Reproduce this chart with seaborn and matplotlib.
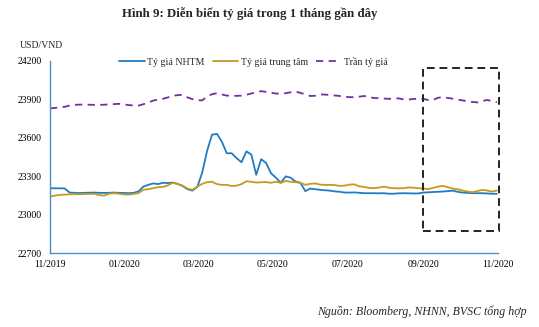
import numpy as np
import pandas as pd
import matplotlib
matplotlib.use("Agg")
import matplotlib.pyplot as plt
import matplotlib.dates as mdates
from matplotlib.patches import Rectangle
import seaborn as sns

sns.set_theme(style="white")
plt.rcParams['font.family'] = ['Liberation Serif', 'DejaVu Serif']

title = "Hình 9: Diễn biến tỷ giá trong 1 tháng gần đây"
unit_label = "USD/VND"
source = "Nguồn: Bloomberg, NHNN, BVSC tổng hợp"
series_names = ["Tỷ giá NHTM", "Tỷ giá trung tâm", "Trần tỷ giá"]

dates = pd.date_range("2019-11-01", "2020-10-31", periods=92)

nhtm = [23208, 23207, 23207, 23206, 23174, 23172, 23170, 23172, 23173, 23174,
        23172, 23171, 23172, 23174, 23172, 23171, 23169, 23172, 23182, 23220,
        23234, 23245, 23240, 23250, 23248, 23252, 23242, 23225, 23200, 23189,
        23218, 23330, 23500, 23625, 23631, 23570, 23480, 23480, 23442, 23410,
        23495, 23470, 23312, 23434, 23405, 23325, 23290, 23250, 23300, 23290,
        23260, 23250, 23185, 23205, 23200, 23195, 23192, 23189, 23183, 23180,
        23174, 23174, 23175, 23172, 23169, 23169, 23169, 23168, 23169, 23165,
        23165, 23168, 23169, 23168, 23167, 23167, 23174, 23176, 23178, 23180,
        23182, 23185, 23189, 23180, 23174, 23172, 23169, 23169, 23169, 23167,
        23165, 23164]

trung_tam = [23143, 23150, 23156, 23158, 23160, 23161, 23161, 23162, 23163, 23164,
             23155, 23150, 23165, 23169, 23165, 23160, 23158, 23163, 23169, 23195,
             23200, 23208, 23216, 23218, 23230, 23250, 23240, 23228, 23205, 23196,
             23220, 23242, 23255, 23258, 23240, 23234, 23234, 23225, 23228, 23240,
             23262, 23258, 23252, 23254, 23256, 23250, 23258, 23250, 23265, 23258,
             23255, 23250, 23234, 23242, 23245, 23236, 23234, 23234, 23232, 23226,
             23228, 23236, 23238, 23222, 23218, 23210, 23208, 23213, 23220, 23212,
             23208, 23207, 23208, 23214, 23212, 23208, 23206, 23201, 23210, 23220,
             23226, 23216, 23205, 23200, 23190, 23182, 23177, 23185, 23195, 23190,
             23182, 23189]

tran = [23830, 23833, 23837, 23842, 23852, 23857, 23859, 23859, 23858, 23857,
        23857, 23858, 23861, 23863, 23865, 23862, 23855, 23853, 23851, 23862,
        23875, 23890, 23898, 23904, 23915, 23927, 23933, 23935, 23915, 23902,
        23893, 23892, 23922, 23940, 23948, 23938, 23929, 23928, 23927, 23929,
        23935, 23946, 23955, 23964, 23958, 23952, 23945, 23945, 23948, 23955,
        23961, 23950, 23940, 23926, 23928, 23939, 23937, 23934, 23930, 23926,
        23920, 23917, 23917, 23921, 23926, 23918, 23910, 23909, 23906, 23904,
        23906, 23908, 23899, 23898, 23903, 23904, 23904, 23895, 23895, 23912,
        23918, 23911, 23905, 23898, 23892, 23885, 23880, 23876, 23886, 23895,
        23887, 23878]

y_ticks = [22700, 23000, 23300, 23600, 23900, 24200]
x_ticks = ["2019-11-01", "2020-01-01", "2020-03-01", "2020-05-01",
           "2020-07-01", "2020-09-01", "2020-11-01"]
x_labels = ["11/2019", "01/2020", "03/2020", "05/2020", "07/2020", "09/2020", "11/2020"]
box_x = ["2020-09-01", "2020-11-02"]
box_y = [22875, 24145]

df = pd.DataFrame({"date": dates, "nhtm": nhtm, "tt": trung_tam, "tran": tran})

fig = plt.figure(figsize=(5.39, 3.27), dpi=100)
ax = fig.add_axes([0.0928, 0.225, 0.8312, 0.589])

c_blue = "#1F7CC4"
c_gold = "#C49A22"
c_purple = "#7030A0"

sns.lineplot(data=df, x="date", y="nhtm", ax=ax, color=c_blue, lw=1.3, label=series_names[0])
sns.lineplot(data=df, x="date", y="tt", ax=ax, color=c_gold, lw=1.3, label=series_names[1])
sns.lineplot(data=df, x="date", y="tran", ax=ax, color=c_purple, lw=1.3,
             label=series_names[2], dashes=False)
ax.lines[2].set_dashes([4, 3])

ax.set_xlim(pd.Timestamp("2019-11-01"), pd.Timestamp("2020-11-01"))
ax.set_ylim(22700, 24200)
ax.set_yticks(y_ticks)
ax.set_yticklabels([str(v) for v in y_ticks], fontsize=7)
ax.set_xticks([pd.Timestamp(d) for d in x_ticks])
ax.set_xticklabels(x_labels, fontsize=7)
ax.tick_params(axis="both", length=0, pad=6, colors="#000000")
ax.tick_params(axis="x", pad=5)
ax.set_xlabel("")
ax.set_ylabel("")

for s in ["top", "right"]:
    ax.spines[s].set_visible(False)
for s in ["left", "bottom"]:
    ax.spines[s].set_color("#4A90C8")
    ax.spines[s].set_linewidth(1.0)

x0 = mdates.date2num(pd.Timestamp(box_x[0]))
x1 = mdates.date2num(pd.Timestamp(box_x[1]))
rect = Rectangle((x0, box_y[0]), x1 - x0, box_y[1] - box_y[0], fill=False,
                 edgecolor="#222222", lw=1.4, ls=(0, (4, 2.5)), clip_on=False, zorder=5)
ax.add_patch(rect)

leg = ax.legend(loc="center", bbox_to_anchor=(0.454, 0.995), ncol=3, frameon=False,
                fontsize=7.1, handlelength=2.6, handletextpad=0.25, columnspacing=0.8)

fig.text(0.464, 0.958, title, ha="center", va="center", fontsize=9.3, fontweight="bold")
fig.text(0.037, 0.862, unit_label, ha="left", va="center", fontsize=7)
fig.text(0.978, 0.048, source, ha="right", va="center", fontsize=8.6, style="italic")

fig.savefig("out.png", dpi=100)
